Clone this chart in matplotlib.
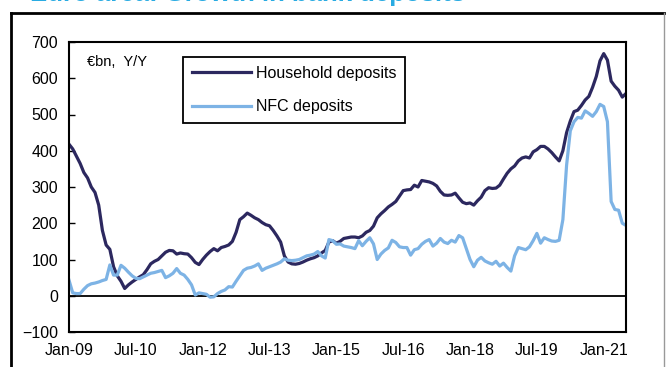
import numpy as np
import matplotlib
matplotlib.use("Agg")
import matplotlib.pyplot as plt
from matplotlib.lines import Line2D

plt.rcParams['font.family'] = ['Liberation Sans', 'DejaVu Sans']

# monthly data, Jan-2009 .. Jul-2021, EUR bn, y/y change
household = [
    418, 405, 385, 365, 340, 325, 300, 285, 250, 180, 140, 128,
    80, 55, 40, 20, 30, 38, 45, 52, 58, 72, 88, 95,
    100, 110, 120, 125, 124, 115, 118, 116, 115, 105, 92, 86,
    100, 112, 122, 130, 124, 133, 136, 140, 150, 175, 210, 218,
    228, 222, 215, 210, 202, 196, 193, 180, 165, 148, 110, 93,
    88, 87, 89, 93, 98, 102, 105, 110, 118, 125, 148, 152,
    145, 150, 158, 160, 162, 162, 160, 165, 175, 180, 192, 215,
    226, 235, 245, 252, 260, 275, 290, 292, 293, 305, 300, 318,
    316, 314, 310, 303, 288, 278, 277, 278, 283, 270, 258, 254,
    256, 250, 262, 272, 290, 298, 296, 297, 305, 322, 338, 350,
    358, 372, 380, 383, 380, 397, 403, 412, 412, 405, 395, 383,
    372, 400, 450, 482, 508, 512, 525, 540, 550, 575, 605, 648,
    668, 650, 592, 578, 567, 548, 558,
]
nfc = [
    43, 8, 6, 6, 18, 28, 33, 35, 38, 42, 45, 85,
    57, 57, 84, 76, 65, 55, 48, 47, 52, 57, 62, 64,
    67, 70, 50, 55, 62, 75, 62, 57, 45, 30, 2, 8,
    6, 4, -4, -3, 6, 12, 16, 25, 24, 40, 55, 70,
    76, 78, 82, 88, 70, 76, 80, 84, 88, 93, 102, 98,
    97, 98, 100, 105, 110, 112, 115, 122, 110, 104, 155, 152,
    142, 143, 137, 135, 133, 130, 152, 138, 150, 160, 143, 100,
    115, 125, 132, 153, 147, 135, 133, 133, 112, 127, 130, 142,
    150, 155, 137, 145, 158, 148, 144, 153, 148, 166, 160, 130,
    100, 80, 98, 106, 96, 91, 87, 95, 82, 90, 78, 68,
    110, 133, 130, 127, 135, 152, 172, 145, 160, 155, 151, 150,
    153, 210, 360, 455, 480, 492, 490, 510, 503, 495, 508, 528,
    522, 480, 260, 238, 236, 200, 194,
]
tick_labels = ['Jan-09', 'Jul-10', 'Jan-12', 'Jul-13', 'Jan-15',
               'Jul-16', 'Jan-18', 'Jul-19', 'Jan-21']
tick_step = 18

fig = plt.figure(figsize=(6.66, 3.67), dpi=100)
ax = fig.add_axes([69/666, 1 - 332/367, (626 - 69)/666, (332 - 42)/367])

x = np.arange(len(household))
ax.plot(x, household, color='#2C285F', lw=2.3, label='Household deposits',
        solid_joinstyle='round')
ax.plot(x, nfc, color='#7DB3E5', lw=2.3, label='NFC deposits',
        solid_joinstyle='round')
ax.axhline(0, color='black', lw=1.3, zorder=1)

ax.set_xlim(0, len(household) - 1)
ax.set_ylim(-100, 700)
ax.set_yticks(np.arange(-100, 701, 100))
ax.set_xticks(np.arange(0, len(tick_labels) * tick_step, tick_step))
ax.set_xticklabels(tick_labels)
ax.tick_params(axis='y', direction='in', length=4, width=1, pad=8, labelsize=11.5)
ax.tick_params(axis='x', length=0, pad=8, labelsize=11.5)
for s in ax.spines.values():
    s.set_linewidth(1.5)

ax.text(0.032, 0.93, '€bn,  Y/Y', transform=ax.transAxes, fontsize=10.5,
        va='center', ha='left')

leg = ax.legend(loc='upper left', bbox_to_anchor=(0.2047, 0.948),
                borderaxespad=0, fontsize=11.5, handlelength=3.7,
                handletextpad=0.3, labelspacing=1.15, borderpad=0.55,
                fancybox=False, edgecolor='black', framealpha=1)
leg.get_frame().set_linewidth(1.3)

# outer frame of the exhibit
fig.add_artist(Line2D([11/666, 11/666], [0, 1 - 13/367], color='black', lw=2))
fig.add_artist(Line2D([11/666, 664/666], [1 - 13/367, 1 - 13/367], color='black', lw=2))
fig.add_artist(Line2D([664/666, 664/666], [0, 1 - 13/367], color='#999999', lw=1))

# title, cut off at the top of the picture
fig.text(30/666, 1 - 0.8/367, 'Euro area: Growth in bank deposits', color='#29ABE2',
         fontsize=18.5, fontweight='bold', ha='left', va='baseline')

fig.savefig('out.png', dpi=100)
